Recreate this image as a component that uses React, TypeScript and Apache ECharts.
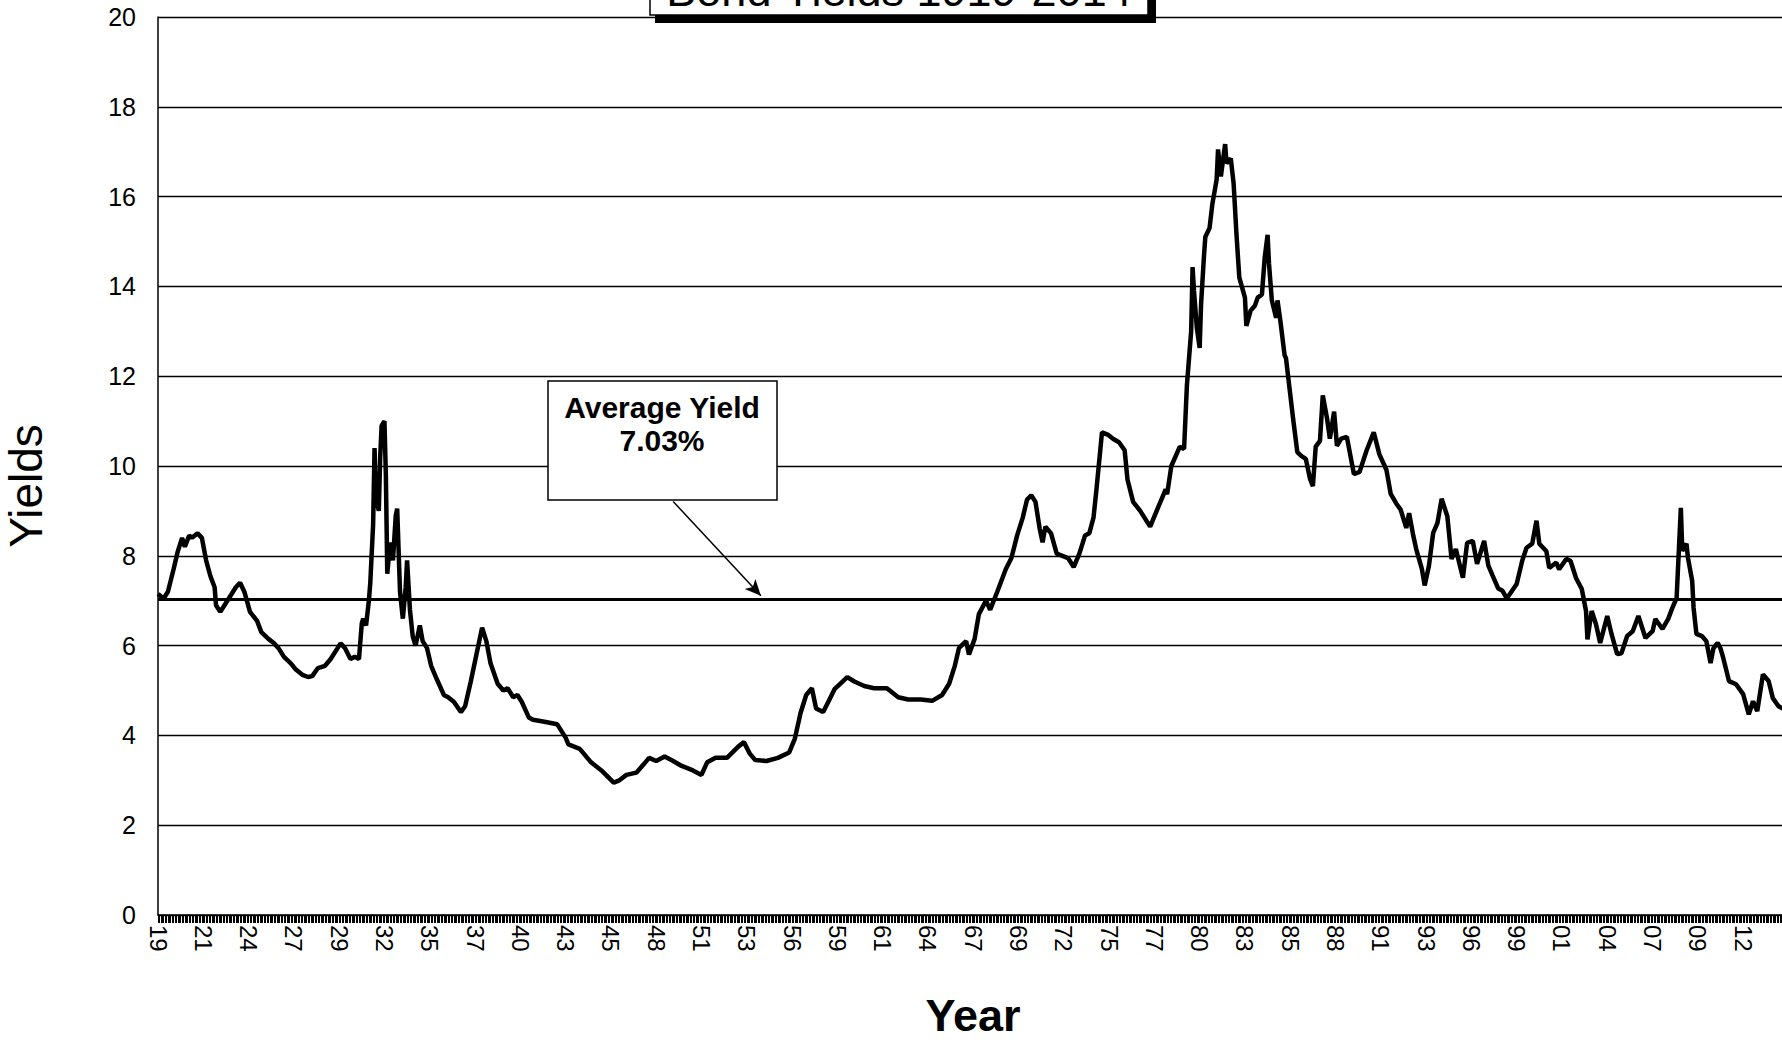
import React, { useEffect, useRef } from "react";
import * as echarts from "echarts";

const START_YEAR = 1919;
const END_YEAR = 2014;
const AVERAGE_YIELD = 7.03;

const yAxisMin = 0;
const yAxisMax = 20;
const yAxisStep = 2;
const xLabelEvery = 32; // months between year labels

const titleText = "Bond Yields 1919-2014";
const boxLine1 = "Average Yield";
const boxLine2 = "7.03%";

// [year (fractional), yield %]
const yields1919to1940: [number, number][] = [
  [1919.0, 7.15], [1919.3, 7.05], [1919.6, 7.2], [1919.9, 7.7], [1920.2, 8.1], [1920.45, 8.4],
  [1920.6, 8.2], [1920.8, 8.45], [1921.0, 8.4], [1921.3, 8.5], [1921.6, 8.4], [1921.85, 7.9],
  [1922.1, 7.55], [1922.3, 7.3], [1922.45, 6.9], [1922.65, 6.75], [1922.9, 6.9], [1923.2, 7.05],
  [1923.6, 7.3], [1923.85, 7.4], [1924.1, 7.2], [1924.4, 6.75], [1924.8, 6.55], [1925.1, 6.3],
  [1925.5, 6.15], [1925.8, 6.05], [1926.1, 5.95], [1926.45, 5.75], [1926.8, 5.6], [1927.1, 5.48],
  [1927.5, 5.35], [1927.8, 5.3], [1928.1, 5.32], [1928.45, 5.5], [1928.8, 5.55], [1929.2, 5.7],
  [1929.5, 5.9], [1929.75, 6.05], [1930.0, 5.95], [1930.3, 5.7], [1930.6, 5.75], [1930.85, 5.7],
  [1930.97, 6.5], [1931.1, 6.6], [1931.25, 6.45], [1931.4, 7.0], [1931.5, 7.4], [1931.65, 8.7],
  [1931.75, 10.4], [1931.85, 9.3], [1932.0, 9.0], [1932.1, 10.2], [1932.2, 10.9], [1932.3, 11.0],
  [1932.4, 9.8], [1932.5, 7.6], [1932.65, 8.3], [1932.8, 7.9], [1933.0, 8.9], [1933.1, 9.05],
  [1933.25, 7.2], [1933.4, 6.6], [1933.55, 7.3], [1933.7, 7.9], [1933.85, 6.8], [1934.0, 6.2],
  [1934.2, 6.0], [1934.45, 6.45], [1934.6, 6.1], [1934.8, 5.95], [1935.1, 5.55], [1935.45, 5.25],
  [1935.8, 4.9], [1936.1, 4.85], [1936.45, 4.75], [1936.8, 4.52], [1937.1, 4.65], [1937.45, 5.2],
  [1937.75, 5.8], [1938.1, 6.4], [1938.3, 6.1], [1938.6, 5.6], [1939.0, 5.15], [1939.3, 5.0],
  [1939.6, 5.05], [1939.9, 4.85], [1940.15, 4.9], [1940.45, 4.75], [1940.8, 4.4],
];

const yields1941to1977: [number, number][] = [
  [1941.1, 4.35], [1941.8, 4.3], [1942.5, 4.25], [1943.0, 3.95], [1943.2, 3.8], [1943.8, 3.7],
  [1944.5, 3.4], [1945.15, 3.2], [1945.8, 2.95], [1946.15, 3.0], [1946.6, 3.12], [1947.15, 3.17],
  [1947.6, 3.35], [1947.95, 3.5], [1948.35, 3.43], [1948.8, 3.53], [1949.3, 3.43], [1949.8, 3.32],
  [1950.5, 3.22], [1951.0, 3.12], [1951.3, 3.4], [1951.8, 3.5], [1952.5, 3.5], [1953.2, 3.75],
  [1953.5, 3.85], [1953.85, 3.6], [1954.2, 3.45], [1954.85, 3.43], [1955.5, 3.5], [1956.2, 3.62],
  [1956.5, 3.93], [1956.85, 4.5], [1957.2, 4.9], [1957.5, 5.05], [1957.75, 4.6], [1958.2, 4.52],
  [1958.5, 4.77], [1958.85, 5.03], [1959.2, 5.15], [1959.55, 5.3], [1960.0, 5.2], [1960.55, 5.1],
  [1961.2, 5.05], [1961.9, 5.05], [1962.55, 4.85], [1963.2, 4.8], [1963.9, 4.8], [1964.55, 4.77],
  [1965.2, 4.9], [1965.55, 5.15], [1965.9, 5.55], [1966.2, 5.95], [1966.55, 6.1], [1966.75, 5.8],
  [1967.1, 6.15], [1967.35, 6.7], [1967.75, 7.0], [1968.0, 6.8], [1968.4, 7.2], [1968.9, 7.7],
  [1969.25, 7.95], [1969.55, 8.45], [1969.9, 8.85], [1970.2, 9.25], [1970.45, 9.35], [1970.7, 9.2],
  [1970.9, 8.6], [1971.1, 8.3], [1971.25, 8.65], [1971.6, 8.5], [1971.9, 8.05], [1972.25, 8.0],
  [1972.6, 7.95], [1972.9, 7.75], [1973.25, 8.05], [1973.6, 8.45], [1973.8, 8.5], [1974.05, 8.85],
  [1974.25, 9.45], [1974.6, 10.75], [1974.9, 10.7], [1975.25, 10.6], [1975.6, 10.53], [1975.9, 10.35],
  [1976.1, 9.7], [1976.45, 9.2], [1976.8, 9.0], [1977.1, 8.85], [1977.45, 8.65], [1977.8, 9.03],
];

const yields1978to1997: [number, number][] = [
  [1978.3, 9.48], [1978.45, 9.37], [1978.7, 10.0], [1979.15, 10.43], [1979.4, 10.38], [1979.6, 11.8],
  [1979.8, 13.0], [1979.9, 14.43], [1980.0, 13.9], [1980.15, 13.08], [1980.3, 12.63], [1980.4, 13.6],
  [1980.55, 14.65], [1980.7, 15.1], [1980.9, 15.3], [1981.1, 15.84], [1981.3, 16.38], [1981.45, 17.05],
  [1981.6, 16.45], [1981.85, 17.17], [1981.95, 16.74], [1982.2, 16.85], [1982.35, 16.29], [1982.5, 15.17],
  [1982.7, 14.2], [1983.0, 13.75], [1983.1, 13.12], [1983.3, 13.46], [1983.55, 13.57], [1983.75, 13.75],
  [1984.0, 13.82], [1984.15, 14.65], [1984.3, 15.15], [1984.45, 14.5], [1984.6, 13.69], [1984.8, 13.3],
  [1984.9, 13.69], [1985.1, 13.24], [1985.3, 12.47], [1985.45, 12.4], [1985.7, 11.6], [1985.85, 11.06],
  [1986.05, 10.31], [1986.35, 10.22], [1986.6, 10.16], [1986.8, 9.71], [1987.0, 9.55], [1987.2, 10.43],
  [1987.4, 10.56], [1987.6, 11.57], [1987.8, 11.06], [1988.0, 10.61], [1988.25, 11.21], [1988.45, 10.45],
  [1988.7, 10.61], [1989.0, 10.65], [1989.45, 9.82], [1989.75, 9.87], [1990.15, 10.35], [1990.6, 10.75],
  [1990.9, 10.26], [1991.3, 9.91], [1991.6, 9.38], [1991.9, 9.16], [1992.2, 9.03], [1992.5, 8.62],
  [1992.7, 8.95], [1992.9, 8.44], [1993.1, 8.15], [1993.4, 7.71], [1993.6, 7.34], [1993.8, 7.78],
  [1994.05, 8.51], [1994.35, 8.73], [1994.6, 9.27], [1994.9, 8.88], [1995.2, 7.93], [1995.4, 8.15],
  [1995.8, 7.51], [1996.1, 8.29], [1996.4, 8.33], [1996.7, 7.82], [1997.05, 8.33], [1997.3, 7.78],
  [1997.6, 7.56], [1997.9, 7.27],
];

const yields1998to2014: [number, number][] = [
  [1998.15, 7.22], [1998.4, 7.05], [1999.0, 7.37], [1999.3, 7.9], [1999.6, 8.18], [1999.9, 8.27],
  [2000.15, 8.78], [2000.35, 8.27], [2000.75, 8.1], [2000.9, 7.73], [2001.3, 7.85], [2001.5, 7.7],
  [2001.9, 7.93], [2002.2, 7.89], [2002.5, 7.5], [2002.8, 7.26], [2003.05, 6.77], [2003.2, 6.14],
  [2003.45, 6.77], [2003.7, 6.48], [2003.9, 6.06], [2004.3, 6.66], [2004.6, 6.26], [2004.9, 5.81],
  [2005.2, 5.83], [2005.5, 6.21], [2005.8, 6.32], [2006.2, 6.66], [2006.6, 6.17], [2007.0, 6.32],
  [2007.2, 6.59], [2007.6, 6.37], [2007.9, 6.59], [2008.2, 6.84], [2008.4, 7.06], [2008.5, 7.73],
  [2008.65, 9.07], [2008.75, 8.11], [2009.0, 8.27], [2009.1, 7.96], [2009.3, 7.44], [2009.4, 6.84],
  [2009.6, 6.26], [2009.9, 6.21], [2010.2, 6.1], [2010.45, 5.61], [2010.6, 5.94], [2010.8, 6.06],
  [2011.0, 5.94], [2011.2, 5.72], [2011.5, 5.21], [2011.9, 5.14], [2012.3, 4.92], [2012.7, 4.47],
  [2012.9, 4.76], [2013.2, 4.54], [2013.5, 5.36], [2013.8, 5.21], [2014.1, 4.83], [2014.4, 4.65],
  [2014.7, 4.6], [2014.95, 4.55],
];

// month categories, labelled with two-digit year
const monthLabels: string[] = [];
for (let y = START_YEAR; y <= END_YEAR; y++) {
  for (let m = 0; m < 12; m++) monthLabels.push(String(y % 100).padStart(2, "0"));
}

const FONT = "'Liberation Sans', Arial, Helvetica, sans-serif";

function toPoints(arr: [number, number][]) {
  return arr.map(([t, v]) => [Math.round((t - START_YEAR) * 12), v]);
}

export default function App() {
  const ref = useRef<HTMLDivElement>(null);

  useEffect(() => {
    if (!ref.current) return;
    const chart = echarts.init(ref.current, null, { renderer: "svg" });
    const seriesData = [
      ...toPoints(yields1919to1940),
      ...toPoints(yields1941to1977),
      ...toPoints(yields1978to1997),
      ...toPoints(yields1998to2014),
    ];

    const option: any = {
      animation: false,
      backgroundColor: "#ffffff",
      grid: {
        left: 158,
        right: -5,
        top: 17,
        bottom: 127,
        outerBoundsMode: "none",
        containLabel: false,
      },
      xAxis: {
        type: "category",
        data: monthLabels,
        boundaryGap: false,
        axisLine: { show: true, lineStyle: { color: "#000", width: 1.5 } },
        axisTick: { show: true, interval: 0, length: 8, lineStyle: { color: "#000", width: 1 } },
        axisLabel: {
          interval: xLabelEvery - 1,
          rotate: -90,
          margin: 10,
          color: "#000",
          fontSize: 24,
          fontFamily: FONT,
        },
        splitLine: { show: false },
      },
      yAxis: {
        type: "value",
        min: yAxisMin,
        max: yAxisMax,
        interval: yAxisStep,
        axisLine: { show: true, lineStyle: { color: "#000", width: 1.5 } },
        axisTick: { show: false },
        axisLabel: { color: "#000", fontSize: 25, fontFamily: FONT, margin: 22 },
        splitLine: { show: true, lineStyle: { color: "#000", width: 1.3 } },
      },
      series: [
        {
          type: "line",
          data: seriesData,
          showSymbol: false,
          symbol: "none",
          lineStyle: { color: "#000", width: 4.5 },
          z: 3,
          markLine: {
            silent: true,
            animation: false,
            symbol: ["none", "none"],
            label: { show: false },
            emphasis: { disabled: true },
            data: [
              { yAxis: AVERAGE_YIELD, lineStyle: { color: "#000", width: 3, type: "solid" } },
              [
                { coord: [364, 9.21], symbol: "none", lineStyle: { color: "#000", width: 1.5, type: "solid" } },
                { coord: [426, 7.11], symbol: "arrow", symbolSize: [11, 16] },
              ],
            ],
          },
        },
      ],
      graphic: [
        { type: "rect", z: 100, shape: { x: 655, y: -80, width: 501, height: 103 }, style: { fill: "#000" } },
        {
          type: "rect", z: 101, shape: { x: 650, y: -80, width: 498, height: 95 },
          style: { fill: "#fff", stroke: "#000", lineWidth: 1.5 },
        },
        {
          type: "text", z: 102, x: 899, y: -10,
          style: { text: titleText, fill: "#000", font: `45px ${FONT}`, align: "center", verticalAlign: "middle" },
        },
        {
          type: "rect", z: 100, shape: { x: 548, y: 381, width: 229, height: 119 },
          style: { fill: "#fff", stroke: "#000", lineWidth: 1.5 },
        },
        {
          type: "text", z: 101, x: 662, y: 407,
          style: { text: boxLine1, fill: "#000", font: `bold 30px ${FONT}`, align: "center", verticalAlign: "middle" },
        },
        {
          type: "text", z: 101, x: 662, y: 440,
          style: { text: boxLine2, fill: "#000", font: `bold 30px ${FONT}`, align: "center", verticalAlign: "middle" },
        },
        {
          type: "text", z: 101, x: 26, y: 486, rotation: Math.PI / 2,
          style: { text: "Yields", fill: "#000", font: `46px ${FONT}`, align: "center", verticalAlign: "middle" },
        },
        {
          type: "text", z: 101, x: 973, y: 1015,
          style: { text: "Year", fill: "#000", font: `bold 45px ${FONT}`, align: "center", verticalAlign: "middle" },
        },
      ],
    };

    chart.setOption(option);
    return () => chart.dispose();
  }, []);

  return (
    <div
      ref={ref}
      style={{ position: "absolute", left: 0, top: 0, width: 1782, height: 1042, background: "#fff" }}
    />
  );
}
